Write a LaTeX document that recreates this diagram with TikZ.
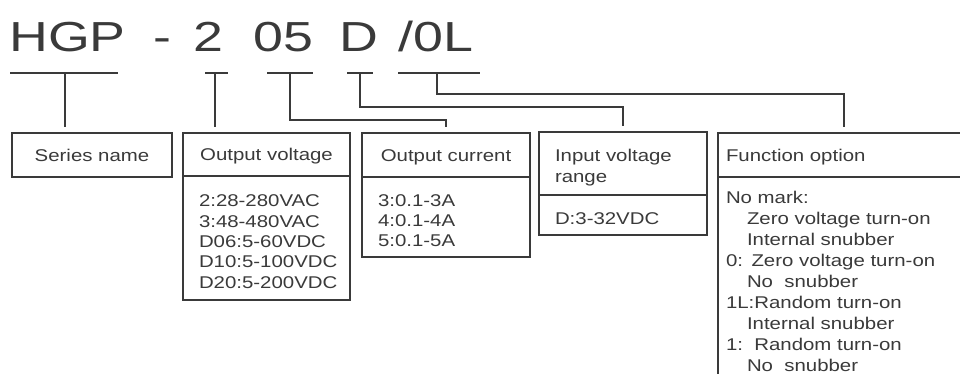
\documentclass[tikz,border=0pt]{standalone}
\usepackage{fontspec}
\setmainfont{Liberation Sans}[FakeStretch=1.2]
\newfontfamily\codefont{Liberation Sans}[FakeStretch=1.28]
\usetikzlibrary{positioning, calc}
\definecolor{ink}{HTML}{3A3A3A}
\newcommand{\topgap}[1]{\rule{0pt}{#1}}
\tikzset{
  codepart/.style={font=\codefont\fontsize{42}{50}\selectfont, text=ink, inner sep=0pt, anchor=base west},
  bar/.style={draw=ink, line width=1.8pt},
  link/.style={draw=ink, line width=1.8pt, shorten >=6pt},
  head/.style={rectangle, draw=ink, line width=1.8pt, anchor=north west, inner sep=0pt,
               outer sep=0pt, font=\fontsize{17}{21}\selectfont, text=ink},
  onehead/.style={head, text height=12pt, text depth=-4pt},
  lefthead/.style={head, align=left, inner xsep=16pt},
  body/.style={head, align=left, inner xsep=16pt},
  lowbody/.style={body, font=\fontsize{17}{20.3}\selectfont},
}
\begin{document}
\begin{tikzpicture}[x=1pt, y=-1pt]
  \clip (0,0) rectangle (960,374);
  \fill[white] (0,0) rectangle (960,374);

  % part number
  \node[codepart] (tseries) at (9,52) {HGP};
  \node[codepart] (tdash) at (153,52) {-};
  \node[codepart] (tvolt) at (193,52) {2};
  \node[codepart] (tcurr) at (253,52) {05};
  \node[codepart] (tin) at (339,52) {D};
  \node[codepart] (tfunc) at (398,52) {/0L};

  \draw[bar] (10,73) -- (118,73);
  \draw[bar] (205,73) -- (228,73);
  \draw[bar] (267,73) -- (313,73);
  \draw[bar] (347,73) -- (373,73);
  \draw[bar] (398,73) -- (480,73);
  \coordinate (cseries) at (65,73);
  \coordinate (cvolt) at (215,73);
  \coordinate (ccurr) at (290,73);
  \coordinate (cin) at (360,73);
  \coordinate (cfunc) at (437,73);

  % boxes
  \node[onehead, minimum width=160pt, minimum height=44pt] (series) at (12,133) {Series name};

  \node[onehead, minimum width=167pt, minimum height=43pt] (volt) at (183,133) {Output voltage};
  \node[lowbody, minimum width=167pt, minimum height=124pt, text width=135pt] (voltbody) at (volt.south west)
    {\topgap{19pt}\mbox{2:28-280VAC}\\\mbox{3:48-480VAC}\\\mbox{D06:5-60VDC}\\\mbox{D10:5-100VDC}\\\mbox{D20:5-200VDC}};

  \node[onehead, minimum width=168pt, minimum height=44pt] (curr) at (362,133) {Output current};
  \node[lowbody, minimum width=168pt, minimum height=80pt, text width=136pt] (currbody) at (curr.south west)
    {\topgap{19pt}3:0.1-3A\\4:0.1-4A\\5:0.1-5A};

  \node[lefthead, minimum width=168pt, minimum height=63pt, text width=136pt] (input) at (539,132)
    {\topgap{20pt}Input voltage\\range};
  \node[lowbody, minimum width=168pt, minimum height=40pt, text width=136pt] (inbody) at (input.south west)
    {\topgap{19pt}D:3-32VDC};

  \node[lefthead, onehead, inner xsep=8pt, minimum width=252pt, minimum height=44pt, text width=236pt] (func) at (718,133)
    {Function option};
  \node[body, inner xsep=8pt, minimum width=252pt, minimum height=209pt, text width=236pt] (funcbody) at (func.south west)
    {No mark:\\
     \hspace*{21pt}Zero voltage turn-on\\
     \hspace*{21pt}Internal snubber\\
     0: Zero voltage turn-on\\
     \hspace*{21pt}No\ \ snubber\\
     1L:Random turn-on\\
     \hspace*{21pt}Internal snubber\\
     1:\ \ Random turn-on\\
     \hspace*{21pt}No\ \ snubber};

  % connectors
  \draw[link] (cseries) -- (cseries |- series.north);
  \draw[link] (cvolt) -- (cvolt |- volt.north);
  \draw[link] (ccurr) |- ([yshift=13pt]curr.north) -- (curr.north);
  \draw[link] (cin) |- ([yshift=25pt]input.north) -- (input.north);
  \draw[link] (cfunc) |- ([yshift=39pt]func.north) -- (func.north);
\end{tikzpicture}
\end{document}
